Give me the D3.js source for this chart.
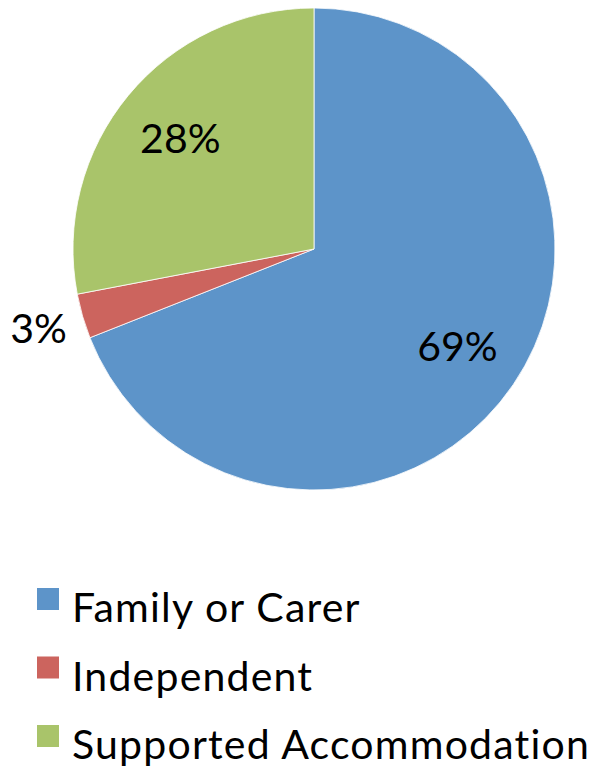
<!DOCTYPE html>
<html>
<head>
<meta charset="utf-8">
<script src="https://cdn.jsdelivr.net/npm/d3@7"></script>
<style>
  body { margin: 0; background: #fff; }
  svg text { font-family: Lato, "Open Sans", sans-serif; fill: #000; }
</style>
</head>
<body>
<div id="chart"></div>
<script>
// data
const categories = ["Family or Carer", "Independent", "Supported Accommodation"];
const values = [69, 3, 28];
const labels = ["69%", "3%", "28%"];
const colors = ["#5D94C9", "#CC645E", "#A9C46A"];

const width = 608, height = 771;
const cx = 314, cy = 249, radius = 241;

const svg = d3.select("#chart").append("svg")
  .attr("width", width)
  .attr("height", height);

const pie = d3.pie().sort(null).value(d => d)(values);
const arc = d3.arc().innerRadius(0).outerRadius(radius);

const g = svg.append("g").attr("transform", `translate(${cx},${cy})`);

g.selectAll("path")
  .data(pie)
  .enter()
  .append("path")
  .attr("d", arc)
  .attr("fill", (d, i) => colors[i])
  .attr("stroke", "#fff")
  .attr("stroke-width", 0.8);

// labels : small slice goes outside the pie
const inLabel = d3.arc().innerRadius(radius * 0.72).outerRadius(radius * 0.72);
const outLabel = d3.arc().innerRadius(radius * 1.19).outerRadius(radius * 1.19);

g.selectAll("text.pct")
  .data(pie)
  .enter()
  .append("text")
  .attr("class", "pct")
  .attr("transform", d => {
    const c = (d.data < 5 ? outLabel : inLabel).centroid(d);
    return `translate(${c[0]},${c[1]})`;
  })
  .attr("text-anchor", "middle")
  .attr("dy", "0.35em")
  .style("font-size", "41px")
  .text((d, i) => labels[i]);

// legend
const legend = svg.append("g").attr("transform", "translate(37,588)");
const rowH = 68.5;

const item = legend.selectAll("g")
  .data(categories)
  .enter()
  .append("g")
  .attr("transform", (d, i) => `translate(0,${i * rowH})`);

item.append("rect")
  .attr("width", 22)
  .attr("height", 22)
  .attr("fill", (d, i) => colors[i]);

item.append("text")
  .attr("x", 35)
  .attr("y", 34)
  .style("font-size", "41px")
  .style("letter-spacing", "1.2px")
  .text(d => d);
</script>
</body>
</html>
